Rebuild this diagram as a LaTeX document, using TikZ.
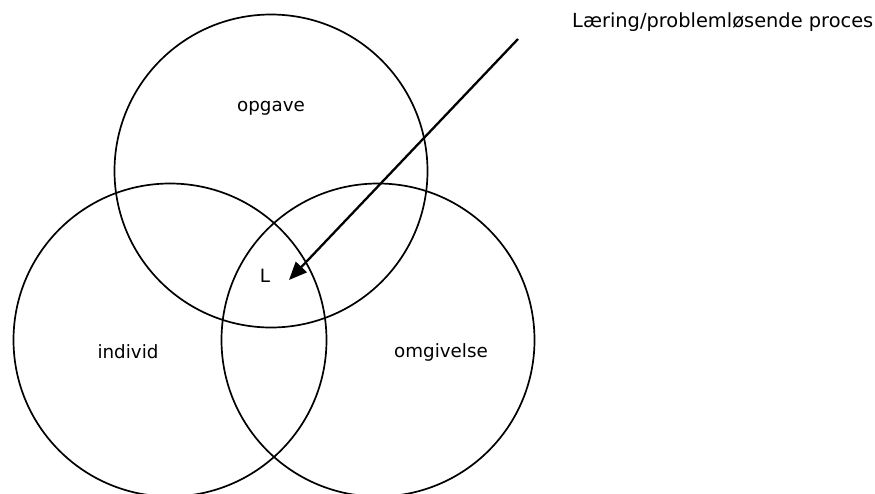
\documentclass[tikz,border=0pt]{standalone}
\usepackage{fontspec}
\setmainfont{DejaVu Sans}
\usetikzlibrary{arrows.meta}
\begin{document}
\begin{tikzpicture}[x=1pt,y=-1pt,
  ring/.style={circle,draw,line width=1.7pt,minimum size=313pt,inner sep=0pt},
  lbl/.style={font=\fontsize{18.3}{21}\selectfont,inner sep=0pt},
  arr/.style={line width=2.3pt,-{Triangle[length=18pt,width=15pt]}}]
\useasboundingbox (0,0) rectangle (875,493);
\node[ring] (opg) at (271,171) {};
\node[ring] (ind) at (170,340) {};
\node[ring] (omg) at (378,340) {};
\node[lbl] (topg) at (271,108) {opgave};
\node[lbl] (tind) at (128,352) {individ};
\node[lbl] (tomg) at (441,352) {omgivelse};
\node[lbl] (tL) at (265,276) {L};
\node[lbl,anchor=west,font=\fontsize{19.4}{22}\selectfont] (proc) at (572,22) {Læring/problemløsende proces};
\coordinate (start) at (518,39);
\coordinate (tip) at (289,280);
\draw[arr] (start) -- (tip);
\end{tikzpicture}
\end{document}
